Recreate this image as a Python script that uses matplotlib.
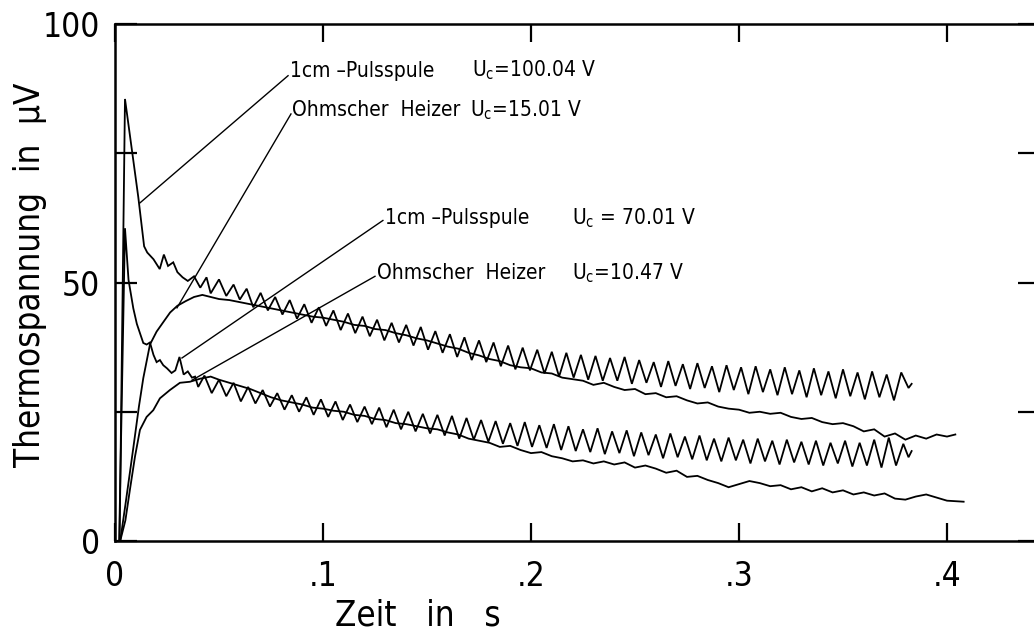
import matplotlib
matplotlib.use("Agg")
import matplotlib.pyplot as plt
from matplotlib import font_manager as fm
from matplotlib.ticker import FixedLocator, FixedFormatter

# ---------------- data ----------------
# 1cm-Pulsspule, Uc = 100.04 V
a_t = [0.0022, 0.0048, 0.0080, 0.0112, 0.0140, 0.0155, 0.0185, 0.0215, 0.0235, 0.0255,
       0.0280, 0.0300, 0.0325, 0.0350, 0.0380, 0.0410, 0.0440, 0.0460, 0.0500, 0.0535,
       0.0570, 0.0600, 0.0633, 0.0665, 0.0700, 0.0735, 0.0770, 0.0805, 0.0840, 0.0875,
       0.0910, 0.0945, 0.0980, 0.1015, 0.1050, 0.1085, 0.1120, 0.1155, 0.1190, 0.1225,
       0.1260, 0.1295, 0.1330, 0.1365, 0.1400, 0.1435, 0.1470, 0.1505, 0.1540, 0.1575,
       0.1610, 0.1645, 0.1680, 0.1715, 0.1750, 0.1785, 0.1820, 0.1855, 0.1890, 0.1925,
       0.1960, 0.1995, 0.2030, 0.2065, 0.2100, 0.2135, 0.2170, 0.2205, 0.2240, 0.2275,
       0.2310, 0.2345, 0.2380, 0.2415, 0.2450, 0.2485, 0.2520, 0.2555, 0.2590, 0.2625,
       0.2660, 0.2695, 0.2730, 0.2765, 0.2800, 0.2835, 0.2870, 0.2905, 0.2940, 0.2975,
       0.3010, 0.3045, 0.3080, 0.3115, 0.3150, 0.3185, 0.3220, 0.3255, 0.3290, 0.3325,
       0.3360, 0.3395, 0.3430, 0.3465, 0.3500, 0.3535, 0.3570, 0.3605, 0.3640, 0.3675,
       0.3710, 0.3745, 0.3780, 0.3815, 0.3830]
a_v = [0.0, 85.5, 76.0, 66.5, 57.0, 55.8, 54.5, 52.6, 55.4, 53.2,
       53.9, 52.0, 51.0, 50.3, 51.2, 49.0, 51.0, 47.9, 50.6, 47.4,
       49.6, 46.7, 48.8, 45.2, 48.0, 44.6, 47.2, 43.8, 46.6, 43.0,
       45.8, 42.2, 45.2, 41.6, 44.6, 40.8, 44.0, 40.2, 43.4, 39.6,
       42.8, 38.8, 42.2, 38.4, 41.8, 37.8, 41.4, 37.0, 40.6, 36.4,
       40.0, 35.6, 39.4, 35.0, 38.8, 34.6, 38.4, 33.8, 37.8, 33.2,
       37.4, 33.0, 37.0, 32.4, 36.6, 31.8, 36.4, 31.6, 36.0, 31.2,
       35.8, 31.0, 35.4, 31.0, 35.6, 30.4, 35.0, 30.6, 34.6, 29.8,
       34.8, 30.0, 34.2, 29.4, 34.4, 29.6, 33.8, 28.8, 34.0, 29.2,
       33.6, 28.4, 33.8, 28.8, 33.2, 28.2, 33.6, 28.4, 33.0, 27.8,
       33.4, 28.2, 32.8, 27.6, 33.2, 28.0, 32.6, 27.4, 32.8, 27.8,
       32.2, 27.2, 32.6, 29.6, 30.4]

# Ohmscher Heizer, Uc = 15.01 V
b_t = [0.0025, 0.0050, 0.0088, 0.0115, 0.0136, 0.0168, 0.0200, 0.0235, 0.0265, 0.0300,
       0.0340, 0.0380, 0.0420, 0.0460, 0.0500, 0.0550, 0.0600, 0.0650, 0.0700, 0.0750,
       0.0800, 0.0850, 0.0900, 0.0950, 0.1000, 0.1050, 0.1100, 0.1150, 0.1200, 0.1250,
       0.1300, 0.1350, 0.1400, 0.1450, 0.1500, 0.1550, 0.1600, 0.1650, 0.1700, 0.1750,
       0.1800, 0.1850, 0.1900, 0.1950, 0.2000, 0.2050, 0.2100, 0.2150, 0.2200, 0.2250,
       0.2300, 0.2350, 0.2400, 0.2450, 0.2500, 0.2550, 0.2600, 0.2650, 0.2700, 0.2750,
       0.2800, 0.2850, 0.2900, 0.2950, 0.3000, 0.3050, 0.3100, 0.3150, 0.3200, 0.3250,
       0.3300, 0.3350, 0.3400, 0.3450, 0.3500, 0.3550, 0.3600, 0.3650, 0.3700, 0.3750,
       0.3800, 0.3850, 0.3900, 0.3950, 0.4000, 0.4040]
b_v = [0.0, 7.0, 18.0, 26.0, 31.5, 38.0, 40.5, 42.5, 44.2, 45.5,
       46.4, 47.2, 47.6, 47.2, 46.8, 46.6, 46.2, 45.8, 45.4, 45.0,
       44.6, 44.2, 43.8, 43.4, 43.2, 42.8, 42.4, 41.8, 41.6, 41.0,
       40.8, 40.2, 39.8, 39.2, 38.8, 38.2, 37.6, 37.2, 36.4, 35.9,
       35.2, 34.8, 34.0, 33.6, 33.4, 32.6, 32.4, 31.6, 31.3, 31.0,
       30.2, 30.6, 29.8, 29.2, 29.4, 28.4, 28.6, 27.8, 28.0, 27.2,
       26.6, 26.8, 26.0, 25.6, 25.4, 24.8, 25.0, 24.6, 24.8, 24.0,
       23.6, 23.8, 23.0, 22.6, 22.8, 22.2, 21.2, 21.6, 20.2, 20.8,
       19.6, 20.4, 19.8, 20.6, 20.2, 20.6]

# 1cm-Pulsspule, Uc = 70.01 V
c_t = [0.0020, 0.0048, 0.0065, 0.0088, 0.0105, 0.0120, 0.0136, 0.0152, 0.0168, 0.0185,
       0.0200, 0.0216, 0.0232, 0.0250, 0.0272, 0.0290, 0.0310, 0.0330, 0.0350, 0.0370,
       0.0385, 0.0400, 0.0430, 0.0465, 0.0500, 0.0535, 0.0570, 0.0605, 0.0640, 0.0675,
       0.0710, 0.0745, 0.0780, 0.0815, 0.0850, 0.0885, 0.0920, 0.0955, 0.0990, 0.1025,
       0.1060, 0.1095, 0.1130, 0.1165, 0.1200, 0.1235, 0.1270, 0.1305, 0.1340, 0.1375,
       0.1410, 0.1445, 0.1480, 0.1515, 0.1550, 0.1585, 0.1620, 0.1655, 0.1690, 0.1725,
       0.1760, 0.1795, 0.1830, 0.1865, 0.1900, 0.1935, 0.1970, 0.2005, 0.2040, 0.2075,
       0.2110, 0.2145, 0.2180, 0.2215, 0.2250, 0.2285, 0.2320, 0.2355, 0.2390, 0.2425,
       0.2460, 0.2495, 0.2530, 0.2565, 0.2600, 0.2635, 0.2670, 0.2705, 0.2740, 0.2775,
       0.2810, 0.2845, 0.2880, 0.2915, 0.2950, 0.2985, 0.3020, 0.3055, 0.3090, 0.3125,
       0.3160, 0.3195, 0.3230, 0.3265, 0.3300, 0.3335, 0.3370, 0.3405, 0.3440, 0.3475,
       0.3510, 0.3545, 0.3580, 0.3615, 0.3650, 0.3685, 0.3720, 0.3755, 0.3790, 0.3815,
       0.3830]
c_v = [0.0, 60.5, 50.5, 45.0, 42.0, 40.2, 38.3, 38.0, 38.4, 36.0,
       34.6, 35.0, 34.0, 33.4, 32.5, 33.0, 35.6, 32.2, 32.8, 31.6,
       31.8, 29.8, 32.0, 28.6, 31.2, 28.0, 30.6, 27.0, 29.8, 26.6,
       29.2, 26.0, 28.6, 25.4, 28.2, 25.0, 27.8, 24.4, 27.4, 24.0,
       27.0, 23.4, 26.4, 23.0, 26.0, 22.6, 25.8, 22.0, 25.4, 21.6,
       25.0, 21.2, 24.6, 20.8, 24.4, 20.4, 24.2, 19.8, 23.8, 19.6,
       23.4, 19.2, 23.2, 18.8, 22.8, 18.4, 23.0, 18.2, 22.4, 18.0,
       22.6, 17.6, 22.2, 17.4, 21.6, 17.2, 21.8, 16.8, 21.2, 17.0,
       21.4, 16.4, 21.0, 16.6, 20.6, 16.0, 20.8, 16.2, 20.2, 15.8,
       20.4, 15.6, 19.8, 15.4, 20.0, 15.6, 19.6, 15.0, 19.8, 15.4,
       19.4, 14.8, 19.6, 15.2, 19.2, 14.8, 19.4, 14.6, 19.0, 15.0,
       19.4, 14.4, 19.0, 14.6, 19.6, 14.2, 20.0, 14.6, 18.8, 16.2,
       17.4]

# Ohmscher Heizer, Uc = 10.47 V
d_t = [0.0025, 0.0050, 0.0072, 0.0096, 0.0120, 0.0152, 0.0184, 0.0216, 0.0264, 0.0312,
       0.0360, 0.0410, 0.0460, 0.0500, 0.0550, 0.0600, 0.0650, 0.0700, 0.0750, 0.0800,
       0.0850, 0.0900, 0.0950, 0.1000, 0.1050, 0.1100, 0.1150, 0.1200, 0.1250, 0.1300,
       0.1350, 0.1400, 0.1450, 0.1500, 0.1550, 0.1600, 0.1650, 0.1700, 0.1750, 0.1800,
       0.1850, 0.1900, 0.1950, 0.2000, 0.2050, 0.2100, 0.2150, 0.2200, 0.2250, 0.2300,
       0.2350, 0.2400, 0.2450, 0.2500, 0.2550, 0.2600, 0.2650, 0.2700, 0.2750, 0.2800,
       0.2850, 0.2900, 0.2950, 0.3000, 0.3050, 0.3100, 0.3150, 0.3200, 0.3250, 0.3300,
       0.3350, 0.3400, 0.3450, 0.3500, 0.3550, 0.3600, 0.3650, 0.3700, 0.3750, 0.3800,
       0.3850, 0.3900, 0.3950, 0.4000, 0.4080]
d_v = [0.0, 4.0, 10.0, 16.3, 21.5, 24.0, 25.3, 27.6, 29.2, 30.6,
       30.8, 31.4, 31.8, 31.2, 30.6, 30.0, 29.4, 28.6, 27.8, 27.2,
       26.8, 26.4, 25.8, 25.6, 25.2, 25.0, 24.4, 24.2, 23.6, 23.4,
       22.8, 22.6, 22.2, 21.8, 21.6, 21.0, 20.6, 19.8, 19.4, 19.0,
       18.2, 18.4, 17.6, 17.0, 17.2, 16.4, 16.0, 15.4, 15.6, 15.0,
       15.4, 14.8, 15.2, 14.2, 14.6, 14.0, 13.2, 13.6, 12.4, 12.6,
       11.8, 11.2, 10.4, 11.0, 11.6, 11.2, 10.6, 10.8, 10.0, 10.4,
       9.6, 10.2, 9.4, 9.8, 9.0, 9.4, 8.8, 9.2, 8.2, 8.0,
       8.6, 9.0, 8.4, 7.8, 7.6]

x_ticks = [0.0, 0.1, 0.2, 0.3, 0.4]
x_ticklabels = ["0", ".1", ".2", ".3", ".4"]
y_ticks = [0, 50, 100]
y_ticklabels = ["0", "50", "100"]
y_minor = [25, 75]

labels = [("1cm –Pulsspule", r"U$_\mathregular{c}$=100.04 V"),
          ("Ohmscher  Heizer", r"U$_\mathregular{c}$=15.01 V"),
          ("1cm –Pulsspule", r"U$_\mathregular{c}$ = 70.01 V"),
          ("Ohmscher  Heizer", r"U$_\mathregular{c}$=10.47 V")]
# points on the curves where the leader lines end
leader_t = [0.012, 0.0298, 0.0322, 0.037]
leader_v = [65.4, 45.1, 35.4, 31.1]

# ---------------- font ----------------
names = {f.name for f in fm.fontManager.ttflist}
if "Liberation Sans Narrow" in names:
    FAM = "Liberation Sans Narrow"
    STRETCH = "normal"
else:
    FAM = "DejaVu Sans"
    STRETCH = "condensed"
plt.rcParams["font.family"] = [FAM, "DejaVu Sans"]
plt.rcParams["font.stretch"] = STRETCH
plt.rcParams["mathtext.default"] = "regular"

W, H = 1034, 632
fig = plt.figure(figsize=(W / 100, H / 100), dpi=100)
L, R, T, B = 115, 1040, 24, 541
ax = fig.add_axes([L / W, 1 - B / H, (R - L) / W, (B - T) / H])
ax.set_xlim(0, (R - L) / 2080)
ax.set_ylim(0, 100)

lw = 1.3
for tt, vv in [(a_t, a_v), (b_t, b_v), (c_t, c_v), (d_t, d_v)]:
    ax.plot(tt, vv, color="black", lw=lw, solid_joinstyle="miter")

for s in ax.spines.values():
    s.set_linewidth(1.8)

ax.xaxis.set_major_locator(FixedLocator(x_ticks))
ax.xaxis.set_major_formatter(FixedFormatter(x_ticklabels))
ax.yaxis.set_major_locator(FixedLocator(y_ticks))
ax.yaxis.set_major_formatter(FixedFormatter(y_ticklabels))
ax.yaxis.set_minor_locator(FixedLocator(y_minor))
ax.tick_params(axis="both", which="both", direction="in", top=True, right=True,
               width=1.6, color="black")
ax.tick_params(axis="x", which="major", length=13, pad=14, labelsize=24)
ax.tick_params(axis="y", which="both", length=16, pad=11, labelsize=24)

fig.text(335 / W, 1 - 615 / H, "Zeit   in   s", fontsize=25, ha="left", va="center")
fig.text(30 / W, 1 - 275 / H, "Thermospannung  in  µV", fontsize=25, rotation=90,
         ha="center", va="center")

# annotation texts
text_x1 = [0.0841, 0.0850, 0.1298, 0.1260]
text_x2 = [0.1716, 0.1707, 0.2197, 0.2197]
text_y = [91.0, 83.4, 62.5, 51.8]
line_start_t = [0.0832, 0.0846, 0.1288, 0.1250]
line_start_v = [90.0, 82.6, 62.0, 51.2]
for i, (l1, l2) in enumerate(labels):
    ax.text(text_x1[i], text_y[i], l1, fontsize=15, ha="left", va="center")
    ax.text(text_x2[i], text_y[i], l2, fontsize=15, ha="left", va="center")
    ax.plot([line_start_t[i], leader_t[i]], [line_start_v[i], leader_v[i]],
            color="black", lw=1.0)

fig.savefig("out.png", dpi=100)
